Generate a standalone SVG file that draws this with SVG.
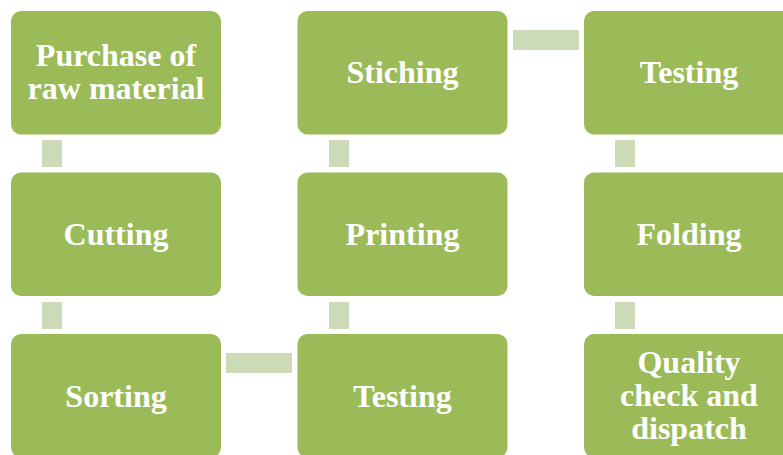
<svg xmlns="http://www.w3.org/2000/svg" width="783" height="455" viewBox="0 0 783 455">
<style>
.box{fill:#9BBB59;}
.con{fill:#CCDAB7;}
.t{fill:#FFFFFF;font-family:"Liberation Serif","Times New Roman",serif;font-weight:bold;font-size:32px;text-anchor:middle;}
</style>
<rect width="783" height="455" fill="#FFFFFF"/>
<g id="connectors">
<rect class="con" x="42" y="140" width="20" height="27"/>
<rect class="con" x="42" y="302" width="20" height="27"/>
<rect class="con" x="226" y="353" width="66" height="20"/>
<rect class="con" x="329" y="302" width="20" height="27"/>
<rect class="con" x="329" y="140" width="20" height="27"/>
<rect class="con" x="513" y="30" width="66" height="20"/>
<rect class="con" x="615" y="140" width="20" height="27"/>
<rect class="con" x="615" y="302" width="20" height="27"/>
</g>
<g id="n1"><rect class="box" x="11" y="11" width="210" height="123.5" rx="10"/>
<text class="t" x="116" y="66">Purchase of</text><text class="t" x="116" y="99">raw material</text></g>
<g id="n2"><rect class="box" x="11" y="172.5" width="210" height="123.5" rx="10"/>
<text class="t" x="116" y="245">Cutting</text></g>
<g id="n3"><rect class="box" x="11" y="334" width="210" height="123.5" rx="10"/>
<text class="t" x="116" y="407">Sorting</text></g>
<g id="n4"><rect class="box" x="297.5" y="334" width="210" height="123.5" rx="10"/>
<text class="t" x="402.5" y="407">Testing</text></g>
<g id="n5"><rect class="box" x="297.5" y="172.5" width="210" height="123.5" rx="10"/>
<text class="t" x="402.5" y="245">Printing</text></g>
<g id="n6"><rect class="box" x="297.5" y="11" width="210" height="123.5" rx="10"/>
<text class="t" x="402.5" y="83">Stiching</text></g>
<g id="n7"><rect class="box" x="584" y="11" width="210" height="123.5" rx="10"/>
<text class="t" x="689" y="83">Testing</text></g>
<g id="n8"><rect class="box" x="584" y="172.5" width="210" height="123.5" rx="10"/>
<text class="t" x="689" y="245">Folding</text></g>
<g id="n9"><rect class="box" x="584" y="334" width="210" height="123.5" rx="10"/>
<text class="t" x="689" y="373">Quality</text><text class="t" x="689" y="406">check and</text><text class="t" x="689" y="439">dispatch</text></g>
</svg>
